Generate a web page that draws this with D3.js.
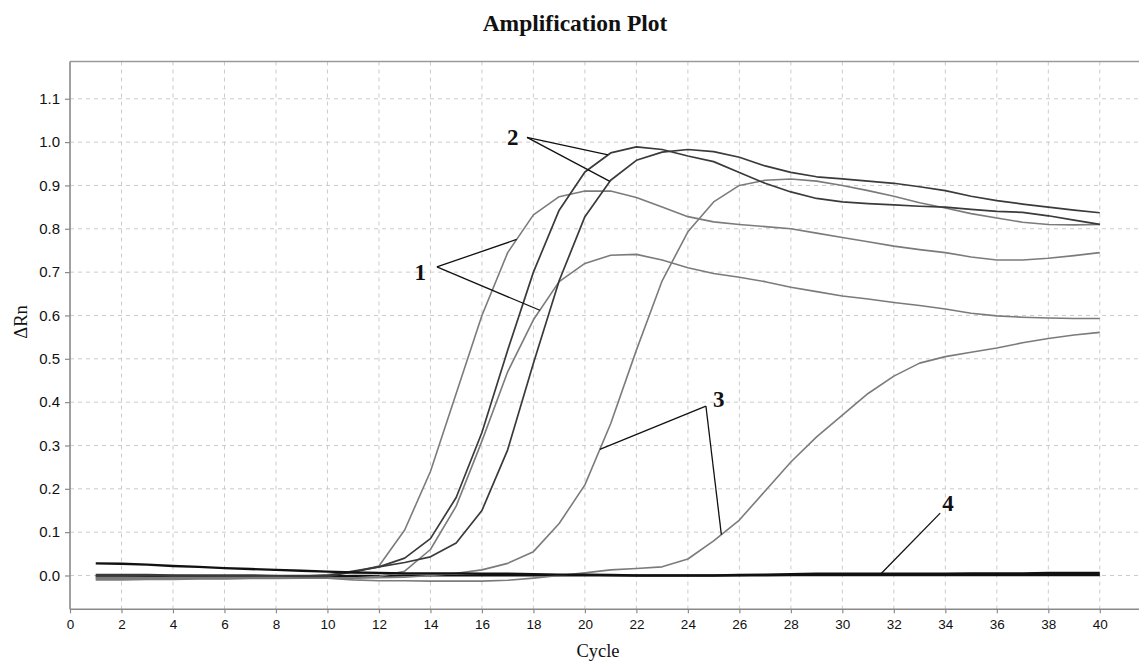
<!DOCTYPE html>
<html>
<head>
<meta charset="utf-8">
<script src="https://cdn.jsdelivr.net/npm/d3@7/dist/d3.min.js"></script>
<style>
  body { margin: 0; background: #fff; }
  text { font-family: "Liberation Sans", Arial, sans-serif; }
  .serif { font-family: "Liberation Serif", "Times New Roman", serif; }
</style>
</head>
<body>
<svg id="amp" width="1139" height="662"></svg>
<script>
// cycle numbers 1..40
const cycles = d3.range(1, 41);

// delta Rn per cycle, one array per well
const well1a = [-0.004, -0.004, -0.005, -0.005, -0.005, -0.004, -0.004, -0.003, -0.002, 0.002,
  0.008, 0.022, 0.105, 0.24, 0.42, 0.60, 0.745, 0.832, 0.874, 0.887,
  0.887, 0.872, 0.85, 0.828, 0.816, 0.81, 0.805, 0.80, 0.79, 0.78,
  0.77, 0.76, 0.752, 0.745, 0.735, 0.728, 0.728, 0.732, 0.738, 0.745];
const well1b = [-0.008, -0.008, -0.008, -0.007, -0.007, -0.007, -0.006, -0.006, -0.005, -0.005,
  -0.006, -0.002, 0.01, 0.06, 0.16, 0.31, 0.47, 0.59, 0.678, 0.72,
  0.739, 0.741, 0.728, 0.71, 0.697, 0.688, 0.678, 0.665, 0.655, 0.645,
  0.638, 0.63, 0.623, 0.615, 0.605, 0.599, 0.596, 0.594, 0.593, 0.593];
const well2a = [0.002, 0.002, 0.002, 0.001, 0.001, 0.001, 0.001, 0.0, 0.0, 0.0,
  0.01, 0.02, 0.04, 0.085, 0.18, 0.33, 0.52, 0.70, 0.843, 0.931,
  0.975, 0.989, 0.983, 0.968, 0.955, 0.93, 0.905, 0.885, 0.87, 0.862,
  0.858, 0.855, 0.852, 0.85, 0.845, 0.84, 0.838, 0.83, 0.82, 0.81];
const well2b = [0.0, 0.0, 0.0, 0.0, -0.001, -0.001, -0.001, -0.001, -0.002, -0.002,
  0.008, 0.02, 0.03, 0.043, 0.075, 0.15, 0.29, 0.49, 0.68, 0.828,
  0.912, 0.958, 0.977, 0.983, 0.978, 0.965, 0.945, 0.93, 0.92, 0.915,
  0.91, 0.905, 0.897, 0.888, 0.875, 0.865, 0.857, 0.85, 0.843, 0.837];
const well3a = [-0.01, -0.01, -0.009, -0.009, -0.008, -0.008, -0.007, -0.007, -0.006, -0.006,
  -0.006, -0.005, -0.004, 0.0, 0.005, 0.013, 0.028, 0.055, 0.12, 0.209,
  0.35, 0.52, 0.68, 0.793, 0.862, 0.90, 0.912, 0.915, 0.91, 0.90,
  0.888, 0.875, 0.86, 0.848, 0.835, 0.825, 0.815, 0.81, 0.809, 0.81];
const well3b = [-0.006, -0.006, -0.006, -0.005, -0.005, -0.005, -0.005, -0.005, -0.005, -0.006,
  -0.01, -0.012, -0.012, -0.013, -0.013, -0.013, -0.011, -0.006, 0.0, 0.006,
  0.013, 0.016, 0.02, 0.038, 0.08, 0.128, 0.195, 0.262, 0.32, 0.37,
  0.42, 0.46, 0.49, 0.505, 0.515, 0.525, 0.537, 0.547, 0.555, 0.561];
const well4a = [0.028, 0.027, 0.025, 0.022, 0.02, 0.017, 0.015, 0.013, 0.011, 0.009,
  0.007, 0.006, 0.005, 0.005, 0.005, 0.004, 0.004, 0.003, 0.002, 0.002,
  0.001, 0.0, 0.0, 0.0, 0.0, 0.001, 0.002, 0.003, 0.004, 0.004,
  0.004, 0.004, 0.004, 0.004, 0.005, 0.005, 0.005, 0.006, 0.006, 0.006];
const well4b = [-0.002, -0.002, -0.002, -0.002, -0.002, -0.002, -0.002, -0.002, -0.002, -0.002,
  -0.001, -0.001, 0.0, 0.0, 0.0, 0.0, 0.0, 0.0, 0.0, 0.0,
  0.0, 0.0, 0.0, 0.0, 0.0, 0.0, 0.0, 0.001, 0.001, 0.001,
  0.001, 0.001, 0.001, 0.001, 0.001, 0.001, 0.001, 0.001, 0.001, 0.001];

const xTicks = d3.range(0, 41, 2);
const yTicks = [0, 0.1, 0.2, 0.3, 0.4, 0.5, 0.6, 0.7, 0.8, 0.9, 1.0, 1.1];

// group numbers written on the plot: text spot, pointer origin, and the wells pointed at
const callouts = [
  { label: "1", at: [13.6, 0.695], from: [14.25, 0.712], to: [["1a", 17.35], ["1b", 18.25]] },
  { label: "2", at: [17.2, 1.005], from: [17.75, 1.011], to: [["2a", 20.9], ["2b", 20.97]] },
  { label: "3", at: [25.2, 0.40], from: [24.7, 0.391], to: [["3a", 20.58], ["3b", 25.3]] },
  { label: "4", at: [34.1, 0.16], from: [33.8, 0.144], to: [["4a", 31.5]] }
];

// 4b first so the grey baselines sit over its start
const wells = [
  { id: "4b", values: well4b, color: "#111", width: 2.2 },
  { id: "1a", values: well1a, color: "#7b7b7b", width: 1.6 },
  { id: "1b", values: well1b, color: "#7b7b7b", width: 1.6 },
  { id: "3a", values: well3a, color: "#7b7b7b", width: 1.6 },
  { id: "3b", values: well3b, color: "#7b7b7b", width: 1.6 },
  { id: "2a", values: well2a, color: "#3a3a3a", width: 1.7 },
  { id: "2b", values: well2b, color: "#3a3a3a", width: 1.7 },
  { id: "4a", values: well4a, color: "#111", width: 2.4 }
];

const svg = d3.select("#amp");

const x = d3.scaleLinear().domain([0, 41.6]).range([70, 1141]);
const y = d3.scaleLinear().domain([-0.078, 1.186]).range([609.3, 61.5]);

// grid
const grid = svg.append("g")
  .attr("stroke", "#cbcbcb")
  .attr("stroke-width", 1)
  .attr("stroke-dasharray", "4,4");

grid.selectAll("line.v")
  .data(xTicks.filter(d => d > 0))
  .join("line")
  .attr("class", "v")
  .attr("x1", d => x(d)).attr("x2", d => x(d))
  .attr("y1", y.range()[1]).attr("y2", y.range()[0]);

grid.selectAll("line.h")
  .data(yTicks)
  .join("line")
  .attr("class", "h")
  .attr("x1", x.range()[0]).attr("x2", x.range()[1])
  .attr("y1", d => y(d)).attr("y2", d => y(d));

// frame: top, left, bottom
svg.append("line")
  .attr("x1", x.range()[0]).attr("x2", x.range()[1])
  .attr("y1", y.range()[1]).attr("y2", y.range()[1])
  .attr("stroke", "#9a9a9a").attr("stroke-width", 1.5);

const xAxis = svg.append("g")
  .attr("transform", `translate(0,${y.range()[0]})`)
  .call(d3.axisBottom(x).tickValues(xTicks).tickSize(4).tickPadding(6).tickFormat(d3.format("d")));

const yAxis = svg.append("g")
  .attr("transform", `translate(${x.range()[0]},0)`)
  .call(d3.axisLeft(y).tickValues(yTicks).tickSize(5).tickPadding(5).tickFormat(d3.format(".1f")));

[xAxis, yAxis].forEach(ax => {
  ax.select(".domain").attr("stroke", "#8a8a8a").attr("stroke-width", 1.6);
  ax.selectAll(".tick line").attr("stroke", "#8a8a8a").attr("stroke-width", 1.2);
  ax.selectAll(".tick text").attr("fill", "#111").attr("font-family", "Liberation Sans, Arial, sans-serif");
});
xAxis.selectAll(".tick text").attr("font-size", 13.5);
yAxis.selectAll(".tick text").attr("font-size", 15);
// bottom axis runs the full width
xAxis.select(".domain").attr("d", `M${x.range()[0]},0H${x.range()[1]}`);
yAxis.select(".domain").attr("d", `M0,${y.range()[0]}V${y.range()[1]}`);

// curves
const line = d3.line()
  .x((d, i) => x(cycles[i]))
  .y(d => y(d));

svg.append("g")
  .attr("fill", "none")
  .attr("stroke-linejoin", "round")
  .selectAll("path")
  .data(wells)
  .join("path")
  .attr("stroke", d => d.color)
  .attr("stroke-width", d => d.width)
  .attr("d", d => line(d.values));

// linear reading of a well between whole cycles
function valueAt(id, c) {
  const v = wells.find(w => w.id === id).values;
  const i = Math.floor(c) - 1;
  const t = c - Math.floor(c);
  return v[i] + (v[Math.min(i + 1, v.length - 1)] - v[i]) * t;
}

const notes = svg.append("g");
callouts.forEach(c => {
  c.to.forEach(([id, cyc]) => {
    notes.append("line")
      .attr("x1", x(c.from[0])).attr("y1", y(c.from[1]))
      .attr("x2", x(cyc)).attr("y2", y(valueAt(id, cyc)))
      .attr("stroke", "#111").attr("stroke-width", 1.3);
  });
  notes.append("text")
    .attr("class", "serif")
    .attr("x", x(c.at[0])).attr("y", y(c.at[1]))
    .attr("text-anchor", "middle")
    .attr("dominant-baseline", "middle")
    .attr("font-size", 23).attr("font-weight", "bold")
    .attr("fill", "#111")
    .text(c.label);
});

// titles
svg.append("text")
  .attr("class", "serif")
  .attr("x", 575).attr("y", 31)
  .attr("text-anchor", "middle")
  .attr("font-size", 23.5).attr("font-weight", "bold")
  .attr("fill", "#111")
  .text("Amplification Plot");

svg.append("text")
  .attr("class", "serif")
  .attr("x", 598).attr("y", 657)
  .attr("text-anchor", "middle")
  .attr("font-size", 18.5)
  .attr("fill", "#111")
  .text("Cycle");

svg.append("text")
  .attr("class", "serif")
  .attr("transform", "translate(27,322) rotate(-90)")
  .attr("text-anchor", "middle")
  .attr("font-size", 18.5)
  .attr("fill", "#111")
  .text("ΔRn");
</script>
</body>
</html>
